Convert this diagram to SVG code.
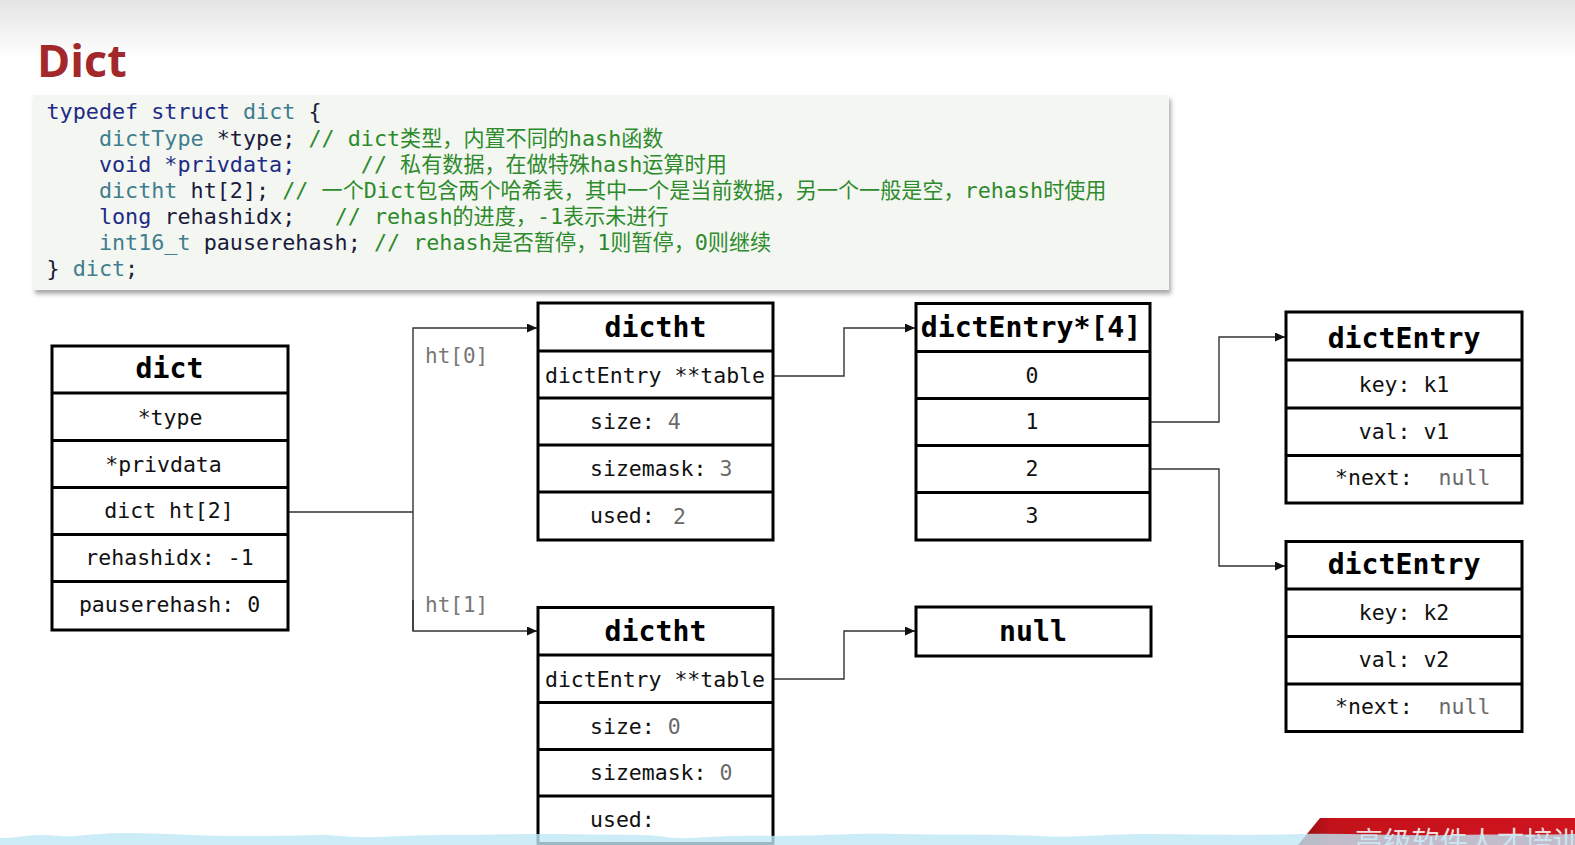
<svg xmlns="http://www.w3.org/2000/svg" width="1575" height="845" viewBox="0 0 1575 845">
<defs>
  <linearGradient id="topg" x1="0" y1="0" x2="0" y2="1">
    <stop offset="0" stop-color="#e4e4e4"/>
    <stop offset="1" stop-color="#ffffff"/>
  </linearGradient>
  <linearGradient id="redg" x1="0" y1="0" x2="1" y2="0">
    <stop offset="0" stop-color="#8e0c12"/>
    <stop offset="0.12" stop-color="#c3121b"/>
    <stop offset="1" stop-color="#d0141e"/>
  </linearGradient>
  <filter id="sh" x="-5%" y="-10%" width="110%" height="125%">
    <feDropShadow dx="2" dy="4" stdDeviation="2" flood-color="#6f6f6f" flood-opacity="0.6"/>
  </filter>
  <marker id="arr" markerUnits="userSpaceOnUse" markerWidth="10" markerHeight="9" refX="10" refY="4.5" orient="auto">
    <path d="M0,0 L10,4.5 L0,9 z" fill="#111"/>
  </marker>
  <style>
    .code{font-family:"DejaVu Sans Mono","Noto Sans CJK SC",monospace;font-size:21.75px}
    .kw{fill:#1e2a86}
    .ty{fill:#3f7d8f}
    .pl{fill:#1a1a3c}
    .cm{fill:#2d8a2d}
    .cj{font-family:"Noto Sans CJK SC",sans-serif;font-size:21.1px}
    .box{fill:#fff;stroke:#000;stroke-width:3}
    .div{stroke:#000;stroke-width:3}
    .hd{font-family:"DejaVu Sans Mono",monospace;font-weight:bold;font-size:28.2px;fill:#000;text-anchor:middle}
    .rw{font-family:"DejaVu Sans Mono",monospace;font-size:21.5px;fill:#111}
    .mid{text-anchor:middle}
    .gv{fill:#6a6a6a}
    .lbl{font-family:"DejaVu Sans Mono",monospace;font-size:21px;fill:#777}
    .cn{fill:none;stroke:#333;stroke-width:1.4}
  </style>
</defs>

<rect x="0" y="0" width="1575" height="845" fill="#fff"/>
<rect x="0" y="0" width="1575" height="58" fill="url(#topg)"/>

<text x="37" y="77" font-family="'Open Sans',sans-serif" font-weight="bold" font-size="45" fill="#a3282b">Dict</text>

<g id="code">
  <rect x="33" y="95" width="1136" height="195" fill="#f4f7f1" filter="url(#sh)"/>
  <text class="code" x="46.5" y="119" xml:space="preserve"><tspan class="kw">typedef struct</tspan> <tspan class="ty">dict</tspan><tspan class="pl"> {</tspan></text>
  <text class="code" x="46.5" y="145.5" xml:space="preserve">    <tspan class="ty">dictType</tspan><tspan class="pl"> *type; </tspan><tspan class="cm">// dict</tspan><tspan class="cm cj">类型，内置不同的</tspan><tspan class="cm">hash</tspan><tspan class="cm cj">函数</tspan></text>
  <text class="code" x="46.5" y="171.5" xml:space="preserve">    <tspan class="kw">void *privdata;</tspan>     <tspan class="cm">// </tspan><tspan class="cm cj">私有数据，在做特殊</tspan><tspan class="cm">hash</tspan><tspan class="cm cj">运算时用</tspan></text>
  <text class="code" x="46.5" y="197.5" xml:space="preserve">    <tspan class="ty">dictht</tspan><tspan class="pl"> ht[2]; </tspan><tspan class="cm">// </tspan><tspan class="cm cj">一个</tspan><tspan class="cm">Dict</tspan><tspan class="cm cj">包含两个哈希表，其中一个是当前数据，另一个一般是空，</tspan><tspan class="cm">rehash</tspan><tspan class="cm cj">时使用</tspan></text>
  <text class="code" x="46.5" y="223.5" xml:space="preserve">    <tspan class="kw">long</tspan><tspan class="pl"> rehashidx;</tspan>   <tspan class="cm">// rehash</tspan><tspan class="cm cj">的进度，</tspan><tspan class="cm">-1</tspan><tspan class="cm cj">表示未进行</tspan></text>
  <text class="code" x="46.5" y="249.5" xml:space="preserve">    <tspan class="ty">int16_t</tspan><tspan class="pl"> pauserehash; </tspan><tspan class="cm">// rehash</tspan><tspan class="cm cj">是否暂停，</tspan><tspan class="cm">1</tspan><tspan class="cm cj">则暂停，</tspan><tspan class="cm">0</tspan><tspan class="cm cj">则继续</tspan></text>
  <text class="code" x="46.5" y="276" xml:space="preserve"><tspan class="pl">}</tspan> <tspan class="ty">dict</tspan><tspan class="pl">;</tspan></text>
</g>

<g id="connectors">
  <polyline class="cn" points="288,512 413,512"/>
  <polyline class="cn" points="413,631 413,328 537,328" marker-end="url(#arr)"/>
  <polyline class="cn" points="413,600 413,631 537,631" marker-end="url(#arr)"/>
  <polyline class="cn" points="773,376 844,376 844,328 915,328" marker-end="url(#arr)"/>
  <polyline class="cn" points="773,679 844,679 844,631 915,631" marker-end="url(#arr)"/>
  <polyline class="cn" points="1150,422 1219,422 1219,337 1285,337" marker-end="url(#arr)"/>
  <polyline class="cn" points="1150,469 1219,469 1219,566 1285,566" marker-end="url(#arr)"/>
  <text class="lbl" x="425" y="363">ht[0]</text>
  <text class="lbl" x="425" y="612">ht[1]</text>
</g>

<g id="dict">
  <rect class="box" x="52" y="346" width="236" height="284"/>
  <line class="div" x1="52" y1="393" x2="288" y2="393"/>
  <line class="div" x1="52" y1="440.5" x2="288" y2="440.5"/>
  <line class="div" x1="52" y1="487.5" x2="288" y2="487.5"/>
  <line class="div" x1="52" y1="534.5" x2="288" y2="534.5"/>
  <line class="div" x1="52" y1="581.5" x2="288" y2="581.5"/>
  <text class="hd" x="169.5" y="378">dict</text>
  <text class="rw mid" x="170" y="424.5">*type</text>
  <text class="rw mid" x="163.5" y="471.5">*privdata</text>
  <text class="rw mid" x="169" y="518">dict ht[2]</text>
  <text class="rw mid" x="169.5" y="564.5">rehashidx: -1</text>
  <text class="rw mid" x="169.5" y="611.5">pauserehash: 0</text>
</g>

<g id="dictht0">
  <rect class="box" x="538" y="303" width="235" height="237"/>
  <line class="div" x1="538" y1="351" x2="773" y2="351"/>
  <line class="div" x1="538" y1="398" x2="773" y2="398"/>
  <line class="div" x1="538" y1="445" x2="773" y2="445"/>
  <line class="div" x1="538" y1="492" x2="773" y2="492"/>
  <text class="hd" x="655.5" y="337">dictht</text>
  <text class="rw mid" x="655" y="383">dictEntry **table</text>
  <text class="rw" x="590" y="429">size: <tspan class="gv">4</tspan></text>
  <text class="rw" x="590" y="476">sizemask: <tspan class="gv">3</tspan></text>
  <text class="rw" x="590" y="523">used:<tspan class="gv" x="673" y="524">2</tspan></text>
</g>

<g id="dictht1">
  <rect class="box" x="538" y="607.5" width="235" height="236"/>
  <line class="div" x1="538" y1="655" x2="773" y2="655"/>
  <line class="div" x1="538" y1="702.5" x2="773" y2="702.5"/>
  <line class="div" x1="538" y1="749.5" x2="773" y2="749.5"/>
  <line class="div" x1="538" y1="796" x2="773" y2="796"/>
  <text class="hd" x="655.5" y="641">dictht</text>
  <text class="rw mid" x="655" y="687">dictEntry **table</text>
  <text class="rw" x="590" y="733.5">size: <tspan class="gv">0</tspan></text>
  <text class="rw" x="590" y="780">sizemask: <tspan class="gv">0</tspan></text>
  <text class="rw" x="590" y="827">used:</text>
</g>

<g id="table">
  <rect class="box" x="916" y="303.5" width="234" height="236.5"/>
  <line class="div" x1="916" y1="351.5" x2="1150" y2="351.5"/>
  <line class="div" x1="916" y1="398.5" x2="1150" y2="398.5"/>
  <line class="div" x1="916" y1="445.5" x2="1150" y2="445.5"/>
  <line class="div" x1="916" y1="492.5" x2="1150" y2="492.5"/>
  <text class="hd" x="1031" y="337">dictEntry*[4]</text>
  <text class="rw mid" x="1032" y="382.5">0</text>
  <text class="rw mid" x="1032" y="428.5">1</text>
  <text class="rw mid" x="1032" y="475.5">2</text>
  <text class="rw mid" x="1032" y="522.5">3</text>
</g>

<g id="null">
  <rect class="box" x="916" y="607" width="235" height="49"/>
  <text class="hd" x="1033" y="641">null</text>
</g>

<g id="entry1">
  <rect class="box" x="1286" y="312" width="236" height="191"/>
  <line class="div" x1="1286" y1="360" x2="1522" y2="360"/>
  <line class="div" x1="1286" y1="408" x2="1522" y2="408"/>
  <line class="div" x1="1286" y1="455.5" x2="1522" y2="455.5"/>
  <text class="hd" x="1404" y="348">dictEntry</text>
  <text class="rw mid" x="1404" y="392">key: k1</text>
  <text class="rw mid" x="1404" y="438.5">val: v1</text>
  <text class="rw" x="1335" y="485" xml:space="preserve">*next:  <tspan class="gv">null</tspan></text>
</g>

<g id="entry2">
  <rect class="box" x="1286" y="541.5" width="236" height="190"/>
  <line class="div" x1="1286" y1="589" x2="1522" y2="589"/>
  <line class="div" x1="1286" y1="636.5" x2="1522" y2="636.5"/>
  <line class="div" x1="1286" y1="684" x2="1522" y2="684"/>
  <text class="hd" x="1404" y="573.5">dictEntry</text>
  <text class="rw mid" x="1404" y="620">key: k2</text>
  <text class="rw mid" x="1404" y="667">val: v2</text>
  <text class="rw" x="1335" y="713.5" xml:space="preserve">*next:  <tspan class="gv">null</tspan></text>
</g>

<g id="footer">
  <polygon points="1320,818 1575,818 1575,845 1298,845" fill="url(#redg)"/>
  <text x="1355" y="852" font-family="'Noto Sans CJK SC',sans-serif" font-size="28" letter-spacing="0.3" fill="#f4dcdc">高级软件人才培训</text>
  <path d="M0,838 C20,838 25,835 40,835 C55,835 60,837 75,836 C90,835 100,833 130,833 C160,833 200,836 230,836 C260,836 290,836 320,835 C340,835 350,838 375,837 C400,836 420,835 450,835 C480,835 500,834 540,834 C580,834 620,835 640,835 C660,835 670,839 690,838 C710,837 730,835 780,836 C820,836 850,833 900,834 C950,835 1000,834 1040,836 C1080,838 1100,834 1150,834 C1200,834 1250,836 1300,834 C1350,833 1400,836 1450,835 C1500,834 1540,835 1575,834 L1575,845 L0,845 Z" fill="#bfe7f6" opacity="0.8"/>
</g>
</svg>
